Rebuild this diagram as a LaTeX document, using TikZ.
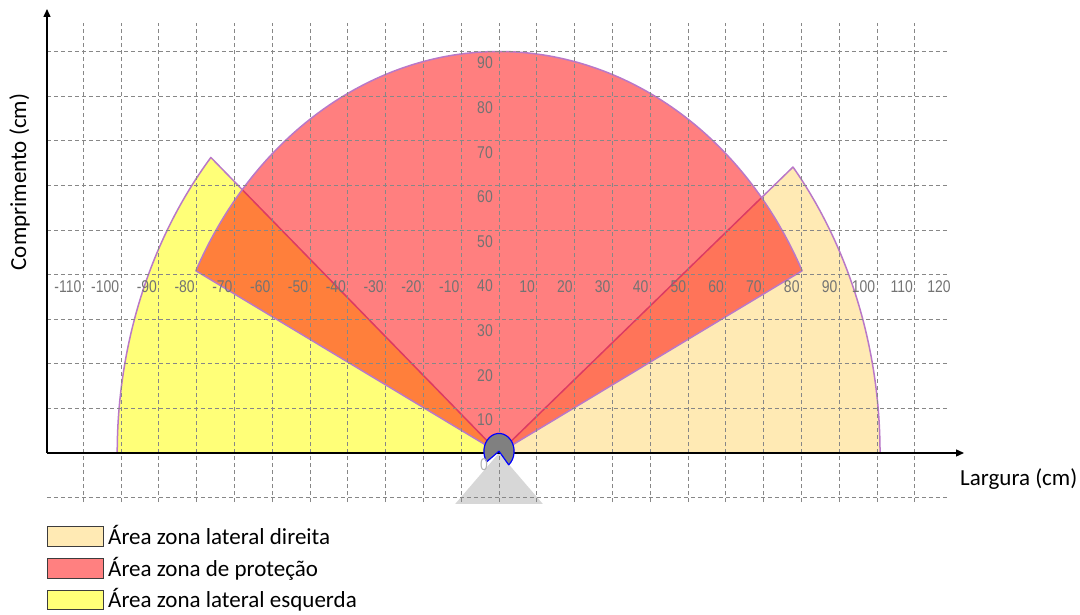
\documentclass[tikz,border=0pt]{standalone}
\usepackage{fontspec}
\setmainfont{Carlito}
\newfontfamily\lblfont{Liberation Sans}
\usetikzlibrary{arrows.meta}
\definecolor{beige}{RGB}{255,234,180}
\definecolor{yel}{RGB}{255,255,120}
\definecolor{pinkred}{RGB}{255,128,128}
\definecolor{zonestroke}{RGB}{185,120,200}
\definecolor{gridgray}{RGB}{135,135,135}
\definecolor{lblgray}{RGB}{115,115,115}
\definecolor{robotgray}{RGB}{128,128,128}
\definecolor{triggray}{RGB}{215,215,215}
\definecolor{swatchline}{RGB}{60,60,60}
\begin{document}
\begin{tikzpicture}[x=1pt,y=1pt,
  zone/.style={draw=zonestroke, line width=1.5pt, line join=round},
  gridline/.style={draw=gridgray, line width=0.9pt, dash pattern=on 4pt off 3pt},
  axis/.style={draw=black, line width=1.4pt, -{Triangle[length=8pt,width=7pt]}},
  ticklbl/.style={text=lblgray, inner sep=0pt, font=\lblfont\fontsize{17}{17}\selectfont},
  axlbl/.style={font=\fontsize{23}{24}\selectfont, inner sep=0pt},
  swatch/.style={draw=swatchline, line width=0.8pt, minimum width=56pt, minimum height=20pt, inner sep=0pt, anchor=south west}]
\useasboundingbox (0,0) rectangle (1080,615);
\coordinate (O) at (499,162);
\begin{scope}[shift={(O)}, x=3.78pt, y=4.46pt]
  % side zones
  \path[zone, fill=yel] (0,0) -- ({101*cos(139)},{101*sin(139)})
     arc[start angle=139, end angle=180, x radius=381.8pt, y radius=450.5pt] -- cycle;
  \path[zone, fill=beige] (0,0) -- (100.8,0)
     arc[start angle=0, end angle=39.5, x radius=381pt, y radius=449.6pt] -- cycle;
  % protection zone
  \path[zone, fill=red, fill opacity=0.5] (0,0) -- ({90*cos(27)},{90*sin(27)})
     arc[start angle=27, end angle=153, x radius=340.2pt, y radius=401.4pt] -- cycle;
  % sensor field below
  \fill[triggray] (0,0) -- (-11.6,-11.43) -- (11.6,-11.43) -- cycle;
  % grid
  \foreach \k in {-11,...,11} \draw[gridline] (\k*10,-11) -- (\k*10,96.4);
  \foreach \j in {-1,...,9} \draw[gridline] (-119.6,\j*10) -- (118.5,\j*10);
\end{scope}
% axes
\coordinate (yb) at (47,162);
\coordinate (yt) at (47,606);
\coordinate (xr) at (964,162);
\draw[axis] (yb) -- (yt);
\draw[axis] (yb) -- (xr);
\begin{scope}[shift={(O)}, x=3.78pt, y=4.46pt]
  % robot
  \path[fill=robotgray, draw=blue, line width=1.2pt, line join=round]
     (0,0.4) -- ({4*cos(-50)},{0.4+4*sin(-50)})
     arc[start angle=-50, end angle=216, x radius=15.1pt, y radius=17.8pt] -- cycle;
  % tick labels
  \foreach \k [count=\i, evaluate=\k as \v using int(\k*10)] in {-11,...,-1,1,2,...,12}
     \node[ticklbl, anchor=east] (xl\i) at ({\k*10-0.45},37.2) {\scalebox{0.82}[1]{\v}};
  \foreach \j in {1,...,9}
     \node[ticklbl, anchor=east] (yl\j) at (-1.6,{\j*10-2.58}) {\scalebox{0.82}[1]{\j0}};
  \node[ticklbl, text=lblgray!55] (zero) at (-4,-2.7) {\scalebox{0.82}[1]{0}};
\end{scope}
% axis titles
\node[axlbl, anchor=base west] (xtitle) at (960,129) {Largura (cm)};
\node[axlbl, rotate=90, anchor=base] (ytitle) at (26,433) {Comprimento (cm)};
% legend
\node[swatch, fill=beige] (sw1) at (47,68) {};
\node[swatch, fill=pinkred] (sw2) at (47,36) {};
\node[swatch, fill=yel, minimum height=19.5pt] (sw3) at (47,5) {};
\node[axlbl, anchor=base west] (lg1) at (108,70.5) {Área zona lateral direita};
\node[axlbl, anchor=base west] (lg2) at (108,38.5) {Área zona de proteção};
\node[axlbl, anchor=base west] (lg3) at (108,7) {Área zona lateral esquerda};
\end{tikzpicture}
\end{document}
